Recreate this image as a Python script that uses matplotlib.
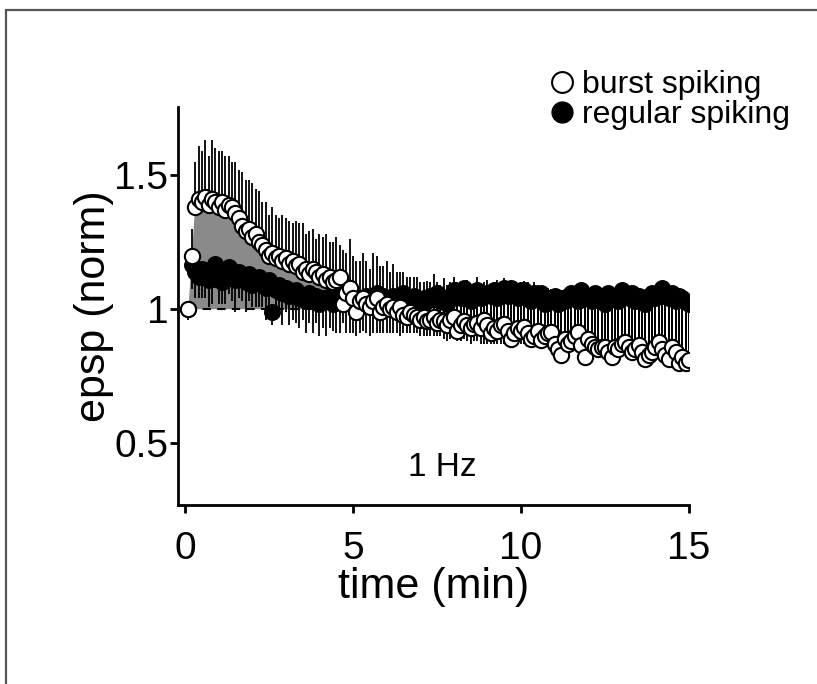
import numpy as np
import matplotlib
matplotlib.use("Agg")
import matplotlib.pyplot as plt
from matplotlib.patches import Rectangle
from matplotlib.lines import Line2D

plt.rcParams['font.family'] = ['Liberation Sans', 'DejaVu Sans']

# time points, one every 0.1 min
t = np.round(np.arange(1, 151) * 0.1, 1)

# burst spiking (open circles), mean and upward error
burst = [1.00, 1.20, 1.38, 1.41, 1.40, 1.42, 1.39, 1.41, 1.40, 1.38,
         1.40, 1.37, 1.39, 1.38, 1.36, 1.34, 1.31, 1.29, 1.30, 1.27,
         1.28, 1.25, 1.24, 1.22, 1.20, 1.21, 1.19, 1.20, 1.18, 1.19,
         1.17, 1.18, 1.16, 1.17, 1.14, 1.15, 1.13, 1.15, 1.14, 1.12,
         1.13, 1.11, 1.12, 1.10, 1.11, 1.12, 1.02, 1.06, 1.08, 1.04,
         0.99, 1.03, 1.04, 1.02, 1.01, 1.03, 1.04, 0.99, 1.01, 1.02,
         1.00, 1.01, 0.99, 1.01, 0.98, 0.97, 0.99, 0.98, 0.97, 0.96,
         0.97, 0.955, 0.96, 0.97, 0.95, 0.96, 0.955, 0.94, 0.96, 0.97,
         0.92, 0.94, 0.955, 0.94, 0.93, 0.945, 0.95, 0.93, 0.96, 0.94,
         0.91, 0.93, 0.92, 0.94, 0.945, 0.92, 0.89, 0.91, 0.93, 0.92,
         0.935, 0.91, 0.89, 0.90, 0.92, 0.885, 0.90, 0.91, 0.915, 0.87,
         0.85, 0.83, 0.89, 0.87, 0.88, 0.90, 0.915, 0.866, 0.82, 0.89,
         0.87, 0.86, 0.85, 0.86, 0.86, 0.84, 0.82, 0.86, 0.85, 0.87,
         0.878, 0.86, 0.84, 0.85, 0.866, 0.84, 0.813, 0.83, 0.84, 0.86,
         0.878, 0.85, 0.83, 0.813, 0.86, 0.84, 0.80, 0.82, 0.80, 0.81]
burst_err = [0.00, 0.10, 0.17, 0.20, 0.19, 0.21, 0.18, 0.22, 0.20, 0.21,
             0.19, 0.20, 0.18, 0.17, 0.19, 0.18, 0.20, 0.19, 0.18, 0.20,
             0.17, 0.19, 0.16, 0.18, 0.15, 0.17, 0.16, 0.14, 0.17, 0.15,
             0.16, 0.14, 0.17, 0.15, 0.18, 0.13, 0.16, 0.15, 0.12, 0.16,
             0.14, 0.17, 0.13, 0.15, 0.16, 0.12, 0.20, 0.15, 0.18, 0.16,
             0.19, 0.15, 0.17, 0.16, 0.14, 0.18, 0.16, 0.17, 0.15, 0.16,
             0.14, 0.16, 0.15, 0.13, 0.16, 0.15, 0.13, 0.14, 0.15, 0.14,
             0.13, 0.15, 0.14, 0.16, 0.15, 0.13, 0.16, 0.15, 0.14, 0.15,
             0.18, 0.16, 0.15, 0.17, 0.16, 0.15, 0.17, 0.16, 0.14, 0.17,
             0.18, 0.17, 0.19, 0.16, 0.17, 0.18, 0.20, 0.17, 0.16, 0.18,
             0.17, 0.19, 0.18, 0.20, 0.17, 0.19, 0.18, 0.17, 0.16, 0.19,
             0.20, 0.21, 0.17, 0.19, 0.18, 0.16, 0.15, 0.19, 0.22, 0.17,
             0.19, 0.20, 0.21, 0.19, 0.20, 0.22, 0.23, 0.19, 0.20, 0.19,
             0.18, 0.20, 0.21, 0.20, 0.19, 0.21, 0.23, 0.21, 0.22, 0.20,
             0.19, 0.21, 0.23, 0.24, 0.20, 0.22, 0.25, 0.23, 0.24, 0.23]

# regular spiking (filled circles), mean and downward error
regular = [1.00, 1.165, 1.14, 1.12, 1.15, 1.13, 1.11, 1.14, 1.17, 1.12,
           1.10, 1.13, 1.156, 1.12, 1.11, 1.14, 1.12, 1.10, 1.13, 1.09,
           1.107, 1.12, 1.10, 1.08, 1.11, 0.99, 1.07, 1.09, 1.06, 1.08,
           1.05, 1.06, 1.07, 1.04, 1.05, 1.03, 1.06, 1.04, 1.05, 1.02,
           1.04, 1.03, 1.05, 1.02, 1.04, 1.03, 1.06, 1.04, 1.03, 1.05,
           1.02, 1.04, 1.03, 1.05, 1.02, 1.04, 1.06, 1.03, 1.05, 1.04,
           1.03, 1.05, 1.04, 1.02, 1.06, 1.04, 1.03, 1.05, 1.04, 1.02,
           1.04, 1.03, 1.05, 1.04, 1.06, 1.03, 1.04, 1.02, 1.05, 1.07,
           1.06, 1.04, 1.08, 1.05, 1.03, 1.06, 1.07, 1.04, 1.05, 1.06,
           1.05, 1.07, 1.04, 1.06, 1.08, 1.05, 1.08, 1.06, 1.04, 1.07,
           1.07, 1.05, 1.03, 1.06, 1.04, 1.06, 1.02, 1.04, 1.03, 1.05,
           1.02, 1.04, 1.03, 1.05, 1.06, 1.04, 1.03, 1.07, 1.05, 1.04,
           1.03, 1.06, 1.05, 1.04, 1.02, 1.06, 1.04, 1.05, 1.03, 1.07,
           1.05, 1.04, 1.06, 1.03, 1.05, 1.04, 1.02, 1.05, 1.06, 1.04,
           1.06, 1.08, 1.05, 1.04, 1.06, 1.03, 1.05, 1.04, 1.03, 1.02]
regular_err = [0.04, 0.09, 0.10, 0.08, 0.11, 0.09, 0.10, 0.12, 0.09, 0.10,
               0.08, 0.11, 0.10, 0.09, 0.12, 0.10, 0.09, 0.11, 0.10, 0.08,
               0.10, 0.11, 0.09, 0.12, 0.10, 0.05, 0.11, 0.10, 0.12, 0.09,
               0.11, 0.10, 0.12, 0.11, 0.09, 0.12, 0.11, 0.13, 0.10, 0.12,
               0.11, 0.13, 0.12, 0.10, 0.13, 0.12, 0.11, 0.13, 0.12, 0.14,
               0.12, 0.13, 0.11, 0.14, 0.12, 0.13, 0.15, 0.12, 0.14, 0.13,
               0.12, 0.14, 0.13, 0.12, 0.15, 0.13, 0.12, 0.14, 0.13, 0.12,
               0.14, 0.13, 0.15, 0.14, 0.16, 0.13, 0.15, 0.14, 0.16, 0.17,
               0.18, 0.16, 0.19, 0.17, 0.16, 0.18, 0.19, 0.17, 0.18, 0.19,
               0.18, 0.20, 0.17, 0.19, 0.21, 0.18, 0.20, 0.19, 0.17, 0.20,
               0.20, 0.18, 0.17, 0.20, 0.18, 0.19, 0.16, 0.18, 0.17, 0.19,
               0.17, 0.19, 0.18, 0.20, 0.21, 0.19, 0.18, 0.22, 0.20, 0.19,
               0.18, 0.21, 0.20, 0.19, 0.17, 0.21, 0.19, 0.20, 0.18, 0.22,
               0.20, 0.19, 0.21, 0.18, 0.20, 0.19, 0.17, 0.20, 0.21, 0.19,
               0.21, 0.23, 0.20, 0.19, 0.21, 0.18, 0.20, 0.19, 0.18, 0.17]

burst = np.array(burst)
regular = np.array(regular)
burst_err = np.array(burst_err)
regular_err = np.array(regular_err)

fig = plt.figure(figsize=(8.17, 6.84), dpi=100)
ax = fig.add_axes([0.2179, 0.2617, 0.6254, 0.5819])

# shaded area where burst is above baseline
early = t <= 5.5
ax.fill_between(t[early], burst[early], 1.0, where=burst[early] >= 1.0,
                color='#8a8a8a', lw=0, zorder=1)
ax.plot([0.1, 5.5], [1.0, 1.0], ls=(0, (4, 3)), color='black', lw=1.5, zorder=2)

ax.errorbar(t, regular, yerr=[regular_err, np.zeros_like(regular_err)],
            fmt='o', ms=11, mfc='black', mec='black', mew=1.2,
            ecolor='black', elinewidth=1.3, capsize=0, zorder=3)
ax.errorbar(t, burst, yerr=[np.zeros_like(burst_err), burst_err],
            fmt='o', ms=11, mfc='white', mec='black', mew=1.5,
            ecolor='black', elinewidth=1.3, capsize=0, zorder=4)

ax.text(7.65, 0.41, '1 Hz', fontsize=24, ha='center', va='center')

ax.set_xlim(-0.21, 15.0)
ax.set_ylim(0.27, 1.754)
ax.set_xticks([0, 5, 10, 15])
ax.set_yticks([0.5, 1, 1.5])
ax.set_yticklabels(['0.5', '1', '1.5'])
ax.tick_params(labelsize=28, width=2, length=6)
ax.tick_params(axis='x', pad=13)
ax.tick_params(axis='y', pad=1)
ax.spines['top'].set_visible(False)
ax.spines['right'].set_visible(False)
for s in ['left', 'bottom']:
    ax.spines[s].set_linewidth(2)

ax.set_xlabel('time (min)', fontsize=31, labelpad=0)
ax.set_ylabel('epsp (norm)', fontsize=31, labelpad=0)

handles = [Line2D([], [], ls='none', marker='o', ms=15, mfc='white', mec='black', mew=1.5),
           Line2D([], [], ls='none', marker='o', ms=15, mfc='black', mec='black')]
fig.legend(handles, ['burst spiking', 'regular spiking'], loc='upper left',
           bbox_to_anchor=(0.656, 0.921), frameon=False, fontsize=23,
           handlelength=0.6, handletextpad=0.35, labelspacing=0.0, borderpad=0)

# grey frame round the figure
fig.patches.append(Rectangle((6 / 817, -0.5), 2.0, 0.9854 + 0.5, transform=fig.transFigure,
                             fill=False, ec='#555555', lw=1.6))

fig.savefig('out.png', dpi=100)
